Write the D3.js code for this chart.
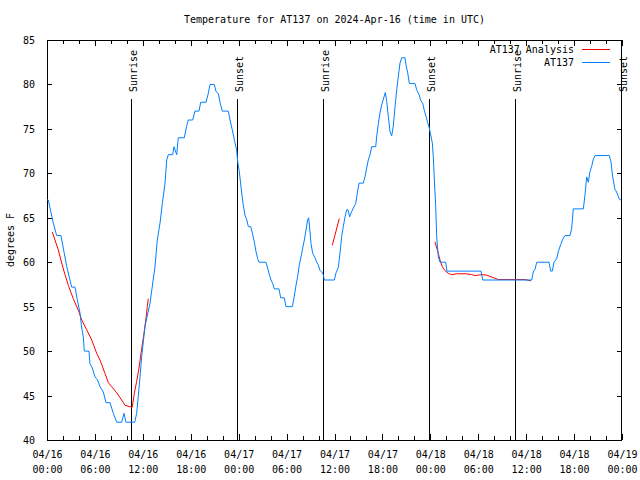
<!DOCTYPE html>
<html>
<head>
<meta charset="utf-8">
<script src="https://cdn.jsdelivr.net/npm/d3@7"></script>
<style>
  html, body { margin: 0; padding: 0; background: #fff; }
  svg { display: block; }
  text { font-family: "DejaVu Sans Mono", "Liberation Mono", monospace; font-size: 10px; fill: #000; }
</style>
</head>
<body>
<svg id="chart" width="640" height="480"></svg>
<script>
// ---------------- DATA ----------------
const titleText = "Temperature for AT137 on 2024-Apr-16 (time in UTC)";
const yLabel = "degrees F";
const startTime = "2024-04-16T00:00:00Z";
const endHours = 72;

// Observed station temperature (hours since start, °F)
const obsHours = [0.00,0.16,0.79,1.21,1.75,2.04,2.47,3.09,3.51,3.79,4.13,4.35,4.55,4.67,5.26,5.38,5.67,6.01,6.30,6.64,7.05,7.39,7.89,8.30,8.73,9.35,9.64,9.89,10.98,11.23,11.52,11.86,12.27,12.90,13.52,13.81,14.15,14.44,14.78,14.99,15.19,15.74,15.90,16.24,16.44,17.19,17.49,17.69,18.24,18.53,19.03,19.25,19.91,20.20,20.41,20.95,21.16,21.45,21.66,21.95,22.70,22.92,23.20,23.45,23.75,23.88,24.08,24.38,24.58,24.79,25.01,25.21,25.51,25.71,25.96,26.17,26.38,26.55,27.42,27.64,27.84,28.05,28.26,28.46,29.05,29.26,29.71,29.93,30.72,30.93,31.18,31.39,31.59,31.81,32.02,32.22,32.43,32.64,32.77,32.93,33.06,33.27,33.56,33.77,33.97,34.18,34.40,34.60,34.72,35.98,36.19,36.48,36.60,36.78,36.90,37.10,37.32,37.53,37.69,37.90,38.15,38.35,38.66,38.86,39.07,39.61,39.82,40.03,40.23,40.45,40.66,41.16,41.28,41.49,41.70,41.91,42.20,42.36,42.54,42.74,42.95,43.16,43.36,43.58,43.79,43.99,44.20,44.42,44.83,44.95,45.17,45.37,46.08,46.29,46.62,46.79,47.04,47.24,47.46,47.67,47.87,48.05,48.25,48.37,48.50,48.67,48.80,49.00,49.21,49.92,50.08,54.35,54.56,60.69,60.89,61.11,61.32,62.86,63.07,63.27,63.49,63.82,64.03,64.33,64.58,64.86,65.49,65.70,65.90,67.16,67.37,67.58,67.78,67.99,68.21,68.41,68.62,70.41,70.62,70.83,71.12,71.33,71.66,71.87];
const obsTemps = [67.0,67.0,64.4,63.0,63.0,61.6,59.5,57.2,57.2,55.8,54.3,52.6,51.6,50.0,50.0,48.6,48.1,47.1,46.8,46.0,45.4,44.2,44.2,43.0,42.0,42.0,43.0,42.0,42.0,43.0,45.8,49.4,52.8,55.4,59.5,62.5,64.4,66.6,68.9,71.5,72.1,72.1,73.0,72.1,74.0,74.0,75.3,76.0,76.0,77.0,77.0,78.0,78.0,79.0,80.0,80.0,79.2,79.0,78.0,77.0,77.0,76.0,74.9,73.8,72.6,71.3,70.2,67.8,66.4,65.3,64.8,64.0,64.0,63.3,62.3,61.2,60.4,60.0,60.0,59.3,58.6,58.0,57.6,57.0,57.0,56.0,56.0,55.0,55.0,56.0,57.4,58.4,59.7,60.6,61.6,62.5,63.6,64.8,65.0,63.4,62.1,61.0,60.5,60.0,59.7,59.1,58.9,58.6,58.0,58.0,58.8,59.4,60.3,61.8,62.9,64.0,65.1,65.9,65.9,65.1,65.7,66.1,66.6,67.8,68.9,68.9,69.6,70.6,71.5,72.1,73.0,73.0,74.1,75.6,76.8,77.7,78.6,79.1,78.1,76.4,74.7,74.2,75.3,77.5,79.4,80.9,82.4,83.0,83.0,82.2,81.3,80.1,80.1,79.4,78.8,78.2,77.9,77.1,76.4,75.7,75.1,74.3,73.4,71.9,69.3,66.3,62.8,60.6,60.0,60.0,59.0,59.0,58.0,58.0,58.9,59.2,60.0,60.0,59.0,59.0,60.0,60.4,61.2,62.0,62.6,63.0,63.0,63.8,66.0,66.0,67.6,69.6,69.0,70.2,70.8,71.6,72.0,72.0,71.3,69.6,68.2,67.9,67.1,67.0];

// Analysis temperature (null breaks the line into segments)
const anaHours = [0.66,1.00,1.41,1.84,2.25,2.67,3.29,3.92,4.35,4.97,5.60,6.22,6.64,7.26,7.68,8.10,8.73,9.35,9.77,10.39,10.68,10.93,11.23,11.52,11.86,12.15,12.40,12.56,12.68, 12.70,
                  35.72,36.60, 36.62,
                  48.58,48.80,49.00,49.21,49.50,49.84,50.25,50.68,51.30,52.56,53.18,53.59,54.43,55.06,55.47,56.10,56.51,59.85,60.61];
const anaTemps = [63.4,62.5,61.4,59.9,58.6,57.4,55.9,54.6,53.5,52.4,51.25,49.75,49.0,47.5,46.45,46.0,45.3,44.5,43.9,43.75,43.7,45.25,46.6,48.1,50.3,52.0,53.7,55.0,55.9, null,
                  61.9,64.9, null,
                  62.3,61.6,61.0,60.25,59.5,59.05,58.75,58.6,58.7,58.7,58.6,58.5,58.6,58.55,58.4,58.2,58.05,58.05,57.9];

// Sunrise / sunset markers (hours since start)
const sunLabels = ["Sunrise","Sunset","Sunrise","Sunset","Sunrise","Sunset"];
const sunHours = [10.52, 23.79, 34.56, 47.83, 58.60, 71.88];

const yTicks = [40,45,50,55,60,65,70,75,80,85];
const xMajorHours = [0,6,12,18,24,30,36,42,48,54,60,66,72];
const xMinorHours = d3.range(0, 73, 2);

const seriesNames = ["AT137 Analysis", "AT137"];
const seriesColors = ["#ff0000", "#0080ff"];

// ---------------- LAYOUT ----------------
const W = 640, H = 480;
const M = {left: 47, right: 18, top: 40, bottom: 40};
const t0 = new Date(startTime);
const hToDate = h => new Date(t0.getTime() + h * 3600e3);

const x = d3.scaleUtc().domain([t0, hToDate(endHours)]).range([M.left, W - M.right]);
const y = d3.scaleLinear().domain([40, 85]).range([H - M.bottom, M.top]);

const svg = d3.select("#chart");

// Title
svg.append("text").attr("x", (M.left + W - M.right) / 2).attr("y", 23)
  .attr("text-anchor", "middle").text(titleText);

// Y label
svg.append("text").attr("transform", `translate(14,${(M.top + H - M.bottom)/2}) rotate(-90)`)
  .attr("text-anchor", "middle").text(yLabel);

const axesG = svg.append("g").attr("shape-rendering", "crispEdges");

// Y axes (left labels, ticks inward both sides)
const yLeft = d3.axisLeft(y).tickValues(yTicks).tickSize(-5).tickPadding(12).tickFormat(d3.format("d"));
axesG.append("g").attr("transform", `translate(${M.left},0)`).call(yLeft)
  .call(g => g.select(".domain").remove())
  .call(g => g.selectAll("text").attr("font-family", null).attr("font-size", null).attr("dy", "0.35em"));
const yRight = d3.axisRight(y).tickValues(yTicks).tickSize(-5).tickFormat("");
axesG.append("g").attr("transform", `translate(${W - M.right},0)`).call(yRight)
  .call(g => g.select(".domain").remove());

// X axes
const xBottomMinor = d3.axisBottom(x).tickValues(xMinorHours.map(hToDate)).tickSize(-4).tickFormat("");
axesG.append("g").attr("transform", `translate(0,${H - M.bottom})`).call(xBottomMinor)
  .call(g => g.select(".domain").remove());
const xTopMinor = d3.axisTop(x).tickValues(xMinorHours.map(hToDate)).tickSize(-4).tickFormat("");
axesG.append("g").attr("transform", `translate(0,${M.top})`).call(xTopMinor)
  .call(g => g.select(".domain").remove());

const fmtDay = d3.utcFormat("%m/%d"), fmtHr = d3.utcFormat("%H:%M");
const xBottom = d3.axisBottom(x).tickValues(xMajorHours.map(hToDate)).tickSize(-6).tickPadding(0).tickFormat("");
const xb = axesG.append("g").attr("transform", `translate(0,${H - M.bottom})`).call(xBottom)
  .call(g => g.select(".domain").remove());
xb.selectAll(".tick").each(function(d) {
  const t = d3.select(this);
  t.select("text").remove();
  t.append("text").attr("fill", "#000").attr("text-anchor", "middle").attr("y", 18).text(fmtDay(d));
  t.append("text").attr("fill", "#000").attr("text-anchor", "middle").attr("y", 33).text(fmtHr(d));
});
const xTop = d3.axisTop(x).tickValues(xMajorHours.map(hToDate)).tickSize(-6).tickFormat("");
axesG.append("g").attr("transform", `translate(0,${M.top})`).call(xTop)
  .call(g => g.select(".domain").remove());

// Frame
axesG.append("rect").attr("x", M.left + 0.5).attr("y", M.top + 0.5)
  .attr("width", W - M.left - M.right - 1).attr("height", H - M.top - M.bottom)
  .attr("fill", "none").attr("stroke", "#000").attr("stroke-width", 1);

axesG.selectAll(".tick line").attr("stroke", "#000");

// Sunrise/sunset lines
const sunG = svg.append("g");
sunHours.forEach((h, i) => {
  const xp = Math.round(x(hToDate(h)));
  sunG.append("line").attr("x1", xp + 0.5).attr("x2", xp + 0.5)
    .attr("y1", M.top + 59).attr("y2", H - M.bottom)
    .attr("stroke", "#000").attr("stroke-width", 1).attr("shape-rendering", "crispEdges");
  sunG.append("text").attr("transform", `translate(${xp + 5.5},92) rotate(-90)`)
    .attr("text-anchor", "start").text(sunLabels[i]);
});

// Data lines
const line = d3.line()
  .defined(d => d[1] !== null)
  .x(d => x(hToDate(d[0]))).y(d => y(d[1]));

const anaData = anaHours.map((h, i) => [h, anaTemps[i]]);
const obsData = obsHours.map((h, i) => [h, obsTemps[i]]);

svg.append("path").datum(anaData).attr("d", line)
  .attr("fill", "none").attr("stroke", seriesColors[0]).attr("stroke-width", 1);
svg.append("path").datum(obsData).attr("d", line)
  .attr("fill", "none").attr("stroke", seriesColors[1]).attr("stroke-width", 1);

// Legend
const legend = svg.append("g");
seriesNames.forEach((name, i) => {
  const ly = 49.5 + i * 13;
  legend.append("text").attr("x", 574).attr("y", ly).attr("dy", "0.35em")
    .attr("text-anchor", "end").text(name);
  legend.append("line").attr("x1", 582).attr("x2", 610).attr("y1", ly).attr("y2", ly)
    .attr("stroke", seriesColors[i]).attr("stroke-width", 1).attr("shape-rendering", "crispEdges");
});
</script>
</body>
</html>
